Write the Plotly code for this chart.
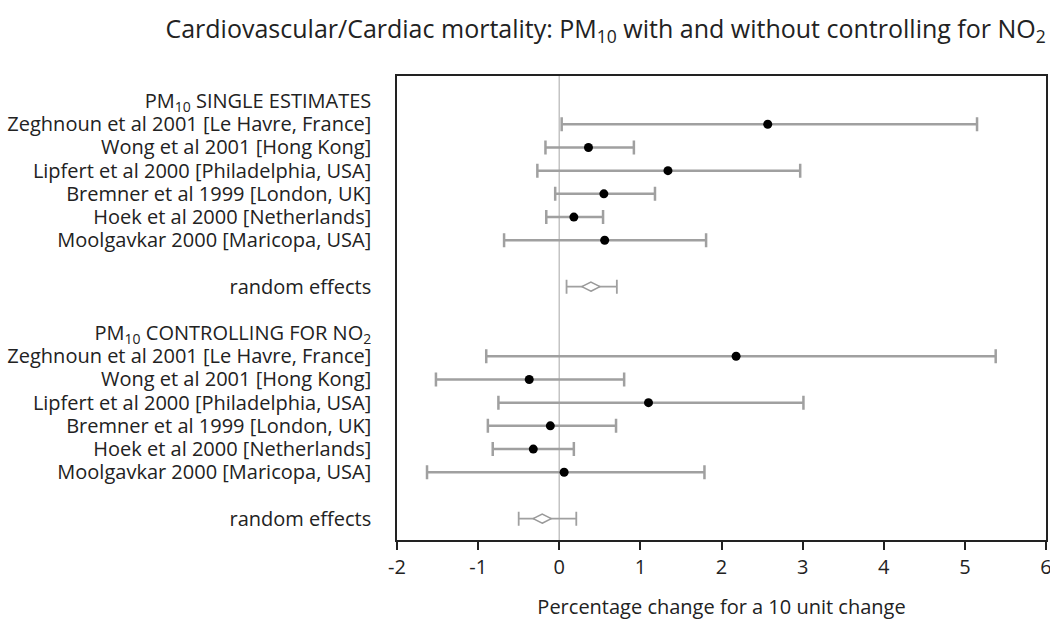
import plotly.graph_objects as go

labels = [
    "PM<sub>10</sub> SINGLE ESTIMATES",
    "Zeghnoun et al 2001 [Le Havre, France]",
    "Wong et al 2001 [Hong Kong]",
    "Lipfert et al 2000 [Philadelphia, USA]",
    "Bremner et al 1999 [London, UK]",
    "Hoek et al 2000 [Netherlands]",
    "Moolgavkar 2000 [Maricopa, USA]",
    "",
    "random effects",
    "",
    "PM<sub>10</sub> CONTROLLING FOR NO<sub>2</sub>",
    "Zeghnoun et al 2001 [Le Havre, France]",
    "Wong et al 2001 [Hong Kong]",
    "Lipfert et al 2000 [Philadelphia, USA]",
    "Bremner et al 1999 [London, UK]",
    "Hoek et al 2000 [Netherlands]",
    "Moolgavkar 2000 [Maricopa, USA]",
    "",
    "random effects",
]

# study estimates (rows 1-6 and 11-16)
study_rows = [1, 2, 3, 4, 5, 6, 11, 12, 13, 14, 15, 16]
study_est = [2.57, 0.36, 1.34, 0.55, 0.18, 0.56, 2.18, -0.37, 1.10, -0.11, -0.32, 0.06]
study_lo = [0.03, -0.17, -0.27, -0.05, -0.16, -0.68, -0.90, -1.52, -0.75, -0.88, -0.82, -1.63]
study_hi = [5.15, 0.92, 2.97, 1.18, 0.54, 1.81, 5.38, 0.80, 3.01, 0.70, 0.18, 1.79]

# random effects pooled estimates
re_rows = [8, 18]
re_est = [0.39, -0.21]
re_lo = [0.09, -0.50]
re_hi = [0.71, 0.21]

x_ticks = [-2, -1, 0, 1, 2, 3, 4, 5, 6]

FONT = "Open Sans"
TXT = "#222222"

fig = go.Figure()

fig.add_vline(x=0, line=dict(color="#c4c4c4", width=1.5), layer="below")

fig.add_trace(go.Scatter(
    x=study_est, y=study_rows, mode="markers",
    marker=dict(color="black", size=9),
    error_x=dict(type="data", symmetric=False,
                 array=[h - e for h, e in zip(study_hi, study_est)],
                 arrayminus=[e - l for e, l in zip(study_est, study_lo)],
                 color="#a0a0a0", thickness=2.5, width=7),
    showlegend=False, hoverinfo="x",
))

fig.add_trace(go.Scatter(
    x=re_est, y=re_rows, mode="markers",
    marker=dict(color="white", size=13, symbol="diamond-wide",
                line=dict(color="#999999", width=1.5)),
    error_x=dict(type="data", symmetric=False,
                 array=[h - e for h, e in zip(re_hi, re_est)],
                 arrayminus=[e - l for e, l in zip(re_est, re_lo)],
                 color="#a0a0a0", thickness=1.8, width=7),
    showlegend=False, hoverinfo="x",
))

fig.update_layout(
    width=1050, height=620,
    margin=dict(l=397, r=4, t=76, b=80),
    paper_bgcolor="white", plot_bgcolor="white",
    font=dict(family=FONT, size=20, color=TXT),
    title=dict(
        text="Cardiovascular/Cardiac mortality: PM<sub>10</sub> with and without controlling for NO<sub>2</sub>",
        x=0.996, xanchor="right", xref="container", y=0.953, yanchor="middle",
        font=dict(family=FONT, size=25, color=TXT),
    ),
    xaxis=dict(
        range=[-2, 6], tickvals=x_ticks,
        ticktext=[str(v) for v in x_ticks],
        showgrid=False, zeroline=False, automargin=False,
        ticklabeloverflow="allow",
        showline=True, linecolor=TXT, linewidth=1.5, mirror=True,
        ticks="outside", ticklen=8, tickcolor=TXT, tickwidth=1.5,
        title=dict(text="Percentage change for a 10 unit change", standoff=26,
                   font=dict(size=20)),
        tickfont=dict(size=20),
    ),
    yaxis=dict(
        range=[18.92, -1.08], tickvals=list(range(len(labels))), ticktext=labels,
        showgrid=False, zeroline=False, automargin=False,
        showline=True, linecolor=TXT, linewidth=1.5, mirror=True,
        ticks="", ticklabelstandoff=20,
        tickfont=dict(size=20),
    ),
)

fig.write_html("out.html")
